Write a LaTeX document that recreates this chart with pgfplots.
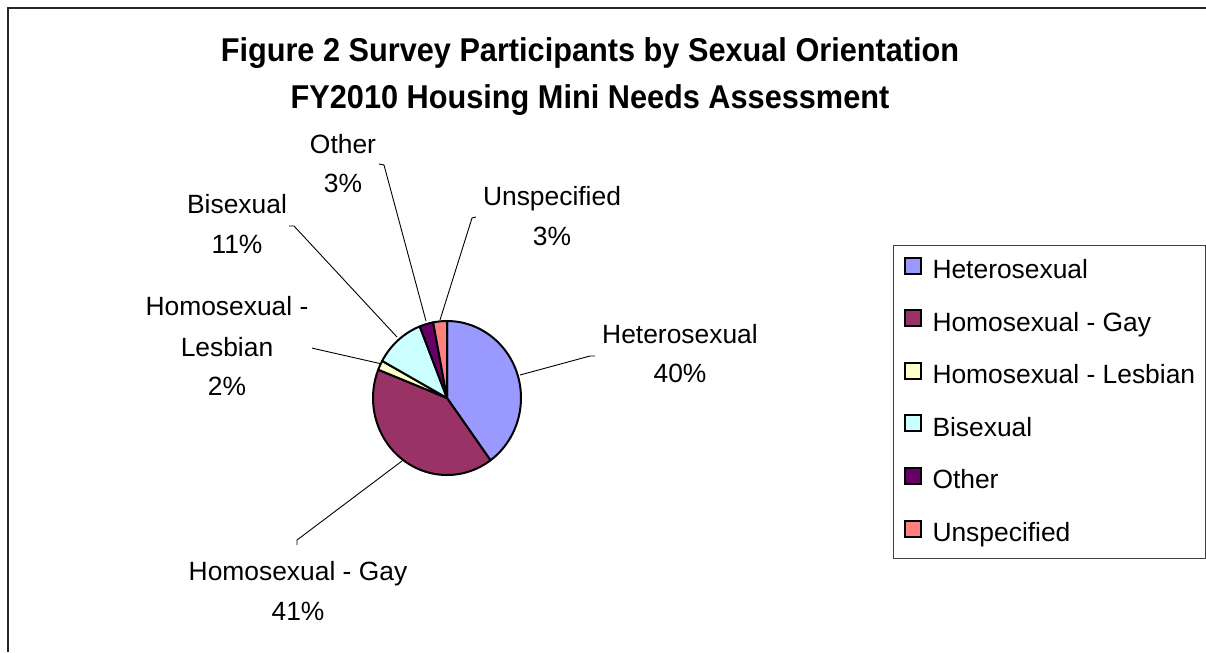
\documentclass[border=0pt]{standalone}
\usepackage{fontspec}
\setmainfont{Liberation Sans}
\usepackage{graphicx}
\usepackage{pgfplots}
\usepackage{pgfplotstable}
\pgfplotsset{compat=1.18}

\definecolor{hetero}{HTML}{9999FF}
\definecolor{gay}{HTML}{993366}
\definecolor{lesbian}{HTML}{FFFFCC}
\definecolor{bisexual}{HTML}{CCFFFF}
\definecolor{other}{HTML}{660066}
\definecolor{unspec}{HTML}{FF8080}

% share of survey participants, per cent
\pgfplotstableread[col sep=comma]{
name,value,colour
Heterosexual,40,hetero
Homosexual - Gay,41,gay
Homosexual - Lesbian,2,lesbian
Bisexual,11,bisexual
Other,3,other
Unspecified,3,unspec
}\piedata

\newcommand{\lbl}{\fontsize{13.2}{15}\selectfont}
\newcommand{\ttl}[1]{\scalebox{0.93}[1]{\fontsize{16.5}{19}\selectfont\bfseries #1}}

\begin{document}
\begin{tikzpicture}
\begin{axis}[
  scale only axis, width=603pt, height=326pt,
  xmin=0, xmax=1206, ymin=0, ymax=652, y dir=reverse,
  hide axis, clip=false,
  legend style={at={(axis cs:893,245)}, anchor=north west,
    draw=black!75, line width=0.5pt, font=\lbl,
    inner xsep=5pt, inner ysep=5.5pt, row sep=12.3pt, column sep=5.5pt,
    nodes={inner sep=0pt, text height=10pt, text depth=3pt}},
  legend cell align=left,
]
% leader lines
\draw[line width=0.45pt] (axis cs:595,356) -- (axis cs:590,356) -- (axis cs:520,375);
\draw[line width=0.45pt] (axis cs:297,545) -- (axis cs:297,540) -- (axis cs:402,461);
\draw[line width=0.45pt] (axis cs:312,348) -- (axis cs:316,349) -- (axis cs:382,364);
\draw[line width=0.45pt] (axis cs:289,226) -- (axis cs:294,226) -- (axis cs:397,337);
\draw[line width=0.45pt] (axis cs:379,164) -- (axis cs:384,165) -- (axis cs:426,321);
\draw[line width=0.45pt] (axis cs:476,217) -- (axis cs:472,218) -- (axis cs:440,320);

% slices, clockwise from twelve o'clock
\def\angstart{90}
\pgfplotsforeachungrouped \i in {0,...,5}{%
  \pgfplotstablegetelem{\i}{value}\of\piedata \let\val\pgfplotsretval
  \pgfplotstablegetelem{\i}{colour}\of\piedata \let\col\pgfplotsretval
  \pgfmathsetmacro\angend{\angstart-3.6*\val}%
  \edef\temp{\noexpand\filldraw[fill=\col, draw=black, line width=1pt, line join=round]
    (axis cs:447,398) -- ++(\angstart:37pt and 38.5pt)
    arc[start angle=\angstart, end angle=\angend, x radius=37pt, y radius=38.5pt] -- cycle;}%
  \temp
  \let\angstart\angend
}

% frame
\draw[line width=0.6pt, black!85] (axis cs:8,652) -- (axis cs:8,8) -- (axis cs:1206,8);

% title
\node[anchor=base] at (axis cs:590,62) {\ttl{Figure 2 Survey Participants by Sexual Orientation}};
\node[anchor=base] at (axis cs:590,108) {\ttl{FY2010 Housing Mini Needs Assessment}};

% data labels
\node[anchor=base, font=\lbl] at (axis cs:680,343) {Heterosexual};
\node[anchor=base, font=\lbl] at (axis cs:680,382) {40\%};
\node[anchor=base, font=\lbl] at (axis cs:298,580) {Homosexual - Gay};
\node[anchor=base, font=\lbl] at (axis cs:298,620) {41\%};
\node[anchor=base, font=\lbl] at (axis cs:227,315) {Homosexual -};
\node[anchor=base, font=\lbl] at (axis cs:227,356) {Lesbian};
\node[anchor=base, font=\lbl] at (axis cs:227,395) {2\%};
\node[anchor=base, font=\lbl] at (axis cs:237,213) {Bisexual};
\node[anchor=base, font=\lbl] at (axis cs:237,253) {11\%};
\node[anchor=base, font=\lbl] at (axis cs:343,153) {Other};
\node[anchor=base, font=\lbl] at (axis cs:343,192) {3\%};
\node[anchor=base, font=\lbl] at (axis cs:552,205) {Unspecified};
\node[anchor=base, font=\lbl] at (axis cs:552,245) {3\%};

% legend
\addlegendimage{legend image code/.code={\draw[fill=hetero, line width=1pt] (0pt,-1pt) rectangle (8pt,7pt);}}
\addlegendentry{Heterosexual}
\addlegendimage{legend image code/.code={\draw[fill=gay, line width=1pt] (0pt,-1pt) rectangle (8pt,7pt);}}
\addlegendentry{Homosexual - Gay}
\addlegendimage{legend image code/.code={\draw[fill=lesbian, line width=1pt] (0pt,-1pt) rectangle (8pt,7pt);}}
\addlegendentry{Homosexual - Lesbian}
\addlegendimage{legend image code/.code={\draw[fill=bisexual, line width=1pt] (0pt,-1pt) rectangle (8pt,7pt);}}
\addlegendentry{Bisexual}
\addlegendimage{legend image code/.code={\draw[fill=other, line width=1pt] (0pt,-1pt) rectangle (8pt,7pt);}}
\addlegendentry{Other}
\addlegendimage{legend image code/.code={\draw[fill=unspec, line width=1pt] (0pt,-1pt) rectangle (8pt,7pt);}}
\addlegendentry{Unspecified}
\end{axis}
\pgfresetboundingbox
\path (current axis.south west) rectangle (current axis.north east);
\end{tikzpicture}
\end{document}
